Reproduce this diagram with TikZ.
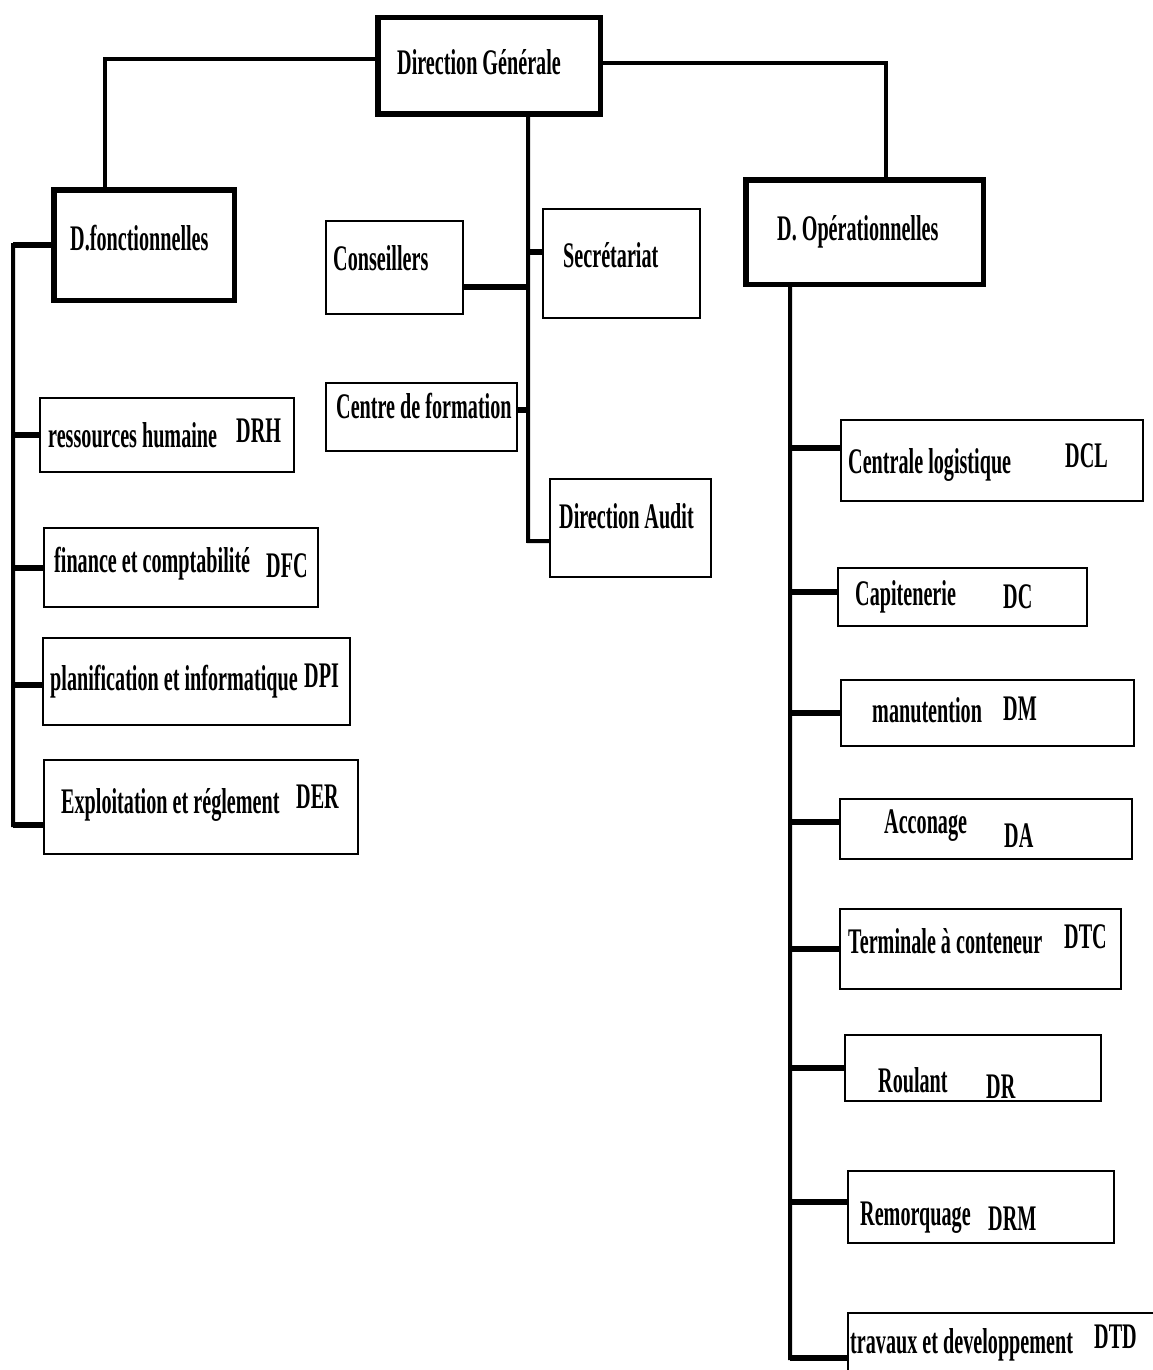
\documentclass[tikz,border=0pt]{standalone}
\usepackage{fontspec}
\newfontfamily\cf[FakeStretch=0.56]{Liberation Serif}
\usetikzlibrary{calc}
\begin{document}
\begin{tikzpicture}[x=1pt,y=-1pt,
  thickbox/.style={draw, line width=5.5pt, inner sep=0pt, anchor=north west},
  thinbox/.style={draw, line width=2.2pt, inner sep=0pt, anchor=north west},
  lbl/.style={inner sep=0pt, anchor=base west, font=\cf\bfseries\fontsize{36}{40}\selectfont},
  conn/.style={line width=4pt},
  tickline/.style={line width=6pt}]
\useasboundingbox (0,0) rectangle (1152,1370);

% boxes
\node[thickbox, minimum width=222.5, minimum height=96.5] (dg) at (375,15) {};
\node[thickbox, minimum width=180.5, minimum height=110.5] (dfo) at (51,187) {};
\node[thickbox, minimum width=237.5, minimum height=104.5] (dop) at (743,177) {};
\node[thinbox, minimum width=137, minimum height=93] (cons) at (325,220) {};
\node[thinbox, minimum width=157, minimum height=109] (sec) at (542,208) {};
\node[thinbox, minimum width=191, minimum height=68] (cdf) at (325,382) {};
\node[thinbox, minimum width=161, minimum height=98] (aud) at (549,478) {};
\node[thinbox, minimum width=254, minimum height=74] (drh) at (39,397) {};
\node[thinbox, minimum width=274, minimum height=79] (dfc) at (43,527) {};
\node[thinbox, minimum width=307, minimum height=87] (dpi) at (42,637) {};
\node[thinbox, minimum width=314, minimum height=94] (der) at (43,759) {};
\node[thinbox, minimum width=302, minimum height=81] (dcl) at (840,419) {};
\node[thinbox, minimum width=249, minimum height=58] (dc) at (837,567) {};
\node[thinbox, minimum width=293, minimum height=66] (dm) at (840,679) {};
\node[thinbox, minimum width=292, minimum height=60] (da) at (839,798) {};
\node[thinbox, minimum width=281, minimum height=80] (dtc) at (839,908) {};
\node[thinbox, minimum width=256, minimum height=66] (dr) at (844,1034) {};
\node[thinbox, minimum width=266, minimum height=72] (drm) at (847,1170) {};
\node[thinbox, minimum width=400, minimum height=100] (dtd) at (847,1312) {};

% texts
\node[lbl] (tdg) at (397,75) {Direction Générale};
\node[lbl] (tdfo) at (70,250) {D.fonctionnelles};
\node[lbl] (tdop) at (777,240) {D. Opérationnelles};
\node[lbl] (tcons) at (333,270) {Conseillers};
\node[lbl] (tsec) at (563,267) {Secrétariat};
\node[lbl] (tcdf) at (336,418) {Centre de formation};
\node[lbl] (taud) at (559,528) {Direction Audit};
\node[lbl] (tdrh) at (48,447) {ressources humaine};
\node[lbl] (cdrh) at (236,442) {DRH};
\node[lbl] (tdfc) at (54,572) {finance et comptabilité};
\node[lbl] (cdfc) at (266,577) {DFC};
\node[lbl] (tdpi) at (50,690) {planification et informatique};
\node[lbl] (cdpi) at (304,687) {DPI};
\node[lbl] (tder) at (61,813) {Exploitation et réglement};
\node[lbl] (cder) at (296,808) {DER};
\node[lbl] (tdcl) at (848,473) {Centrale logistique};
\node[lbl] (cdcl) at (1065,467) {DCL};
\node[lbl] (tdc) at (855,605) {Capitenerie};
\node[lbl] (cdc) at (1003,608) {DC};
\node[lbl] (tdm) at (872,722) {manutention};
\node[lbl] (cdm) at (1003,720) {DM};
\node[lbl] (tda) at (884,833) {Acconage};
\node[lbl] (cda) at (1004,847) {DA};
\node[lbl] (tdtc) at (848,953) {Terminale à conteneur};
\node[lbl] (cdtc) at (1064,948) {DTC};
\node[lbl] (tdr) at (878,1092) {Roulant};
\node[lbl] (cdr) at (986,1098) {DR};
\node[lbl] (tdrm) at (860,1225) {Remorquage};
\node[lbl] (cdrm) at (988,1230) {DRM};
\node[lbl] (tdtd) at (850,1353) {travaux et developpement};
\node[lbl] (cdtd) at (1094,1348) {DTD};

% bus coordinates
\coordinate (lbus) at (13,825);
\coordinate (cbus) at (528,541);
\coordinate (rbus) at (790,1358);

% top connectors
\draw[conn] ([yshift=7pt]dg.west) -| ([xshift=-39pt]dfo.north);
\draw[conn] ([yshift=3pt]dg.east) -| ([xshift=21.5pt]dop.north);

% centre trunk
\draw[conn] (cbus |- dg.south) -- (cbus) -- ([yshift=-13pt]aud.west);
\draw[tickline] ([yshift=-19.5pt]cons.east) -- ([yshift=-19.5pt]cons.east -| cbus);
\draw[tickline] ([yshift=11.5pt]sec.west) -- ([yshift=11.5pt]sec.west -| cbus);
\draw[tickline] ([yshift=7pt]cdf.east) -- ([yshift=7pt]cdf.east -| cbus);

% left bus
\draw[conn] (dfo.west) -| (lbus) -- ([yshift=-18pt]der.west);
\draw[tickline] (dfo.west) -- (dfo.west -| lbus);
\draw[tickline] (drh.west) -- (drh.west -| lbus);
\draw[tickline] (dfc.west) -- (dfc.west -| lbus);
\draw[tickline] ([yshift=-3pt]dpi.west) -- ([yshift=-3pt]dpi.west -| lbus);
\draw[tickline] ([yshift=-18pt]der.west) -- ([yshift=-18pt]der.west -| lbus);

% right bus
\draw[conn] (rbus |- dop.south) -- (rbus) -- ([yshift=5pt]dtd.west);
\draw[tickline] ([yshift=12.5pt]dcl.west) -- ([yshift=12.5pt]dcl.west -| rbus);
\draw[tickline] ([yshift=5pt]dc.west) -- ([yshift=5pt]dc.west -| rbus);
\draw[tickline] (dm.west) -- (dm.west -| rbus);
\draw[tickline] ([yshift=7pt]da.west) -- ([yshift=7pt]da.west -| rbus);
\draw[tickline] (dtc.west) -- (dtc.west -| rbus);
\draw[tickline] (dr.west) -- (dr.west -| rbus);
\draw[tickline] ([yshift=5pt]drm.west) -- ([yshift=5pt]drm.west -| rbus);
\draw[tickline] ([yshift=5pt]dtd.west) -- ([yshift=5pt]dtd.west -| rbus);
\end{tikzpicture}
\end{document}
